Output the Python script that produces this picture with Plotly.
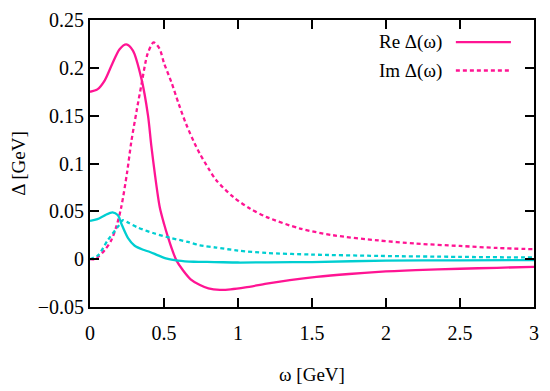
import plotly.graph_objects as go

# ---- data ----
re_pink_w = [0, 0.05, 0.1, 0.15, 0.2, 0.245, 0.29, 0.347, 0.392, 0.414, 0.44, 0.471, 0.5, 0.527,
             0.555, 0.583, 0.628, 0.68, 0.743, 0.8, 0.878, 0.95, 1.05, 1.194, 1.35, 1.53, 1.75, 1.95,
             2.2, 2.5, 2.75, 3.0]
re_pink = [0.175, 0.1775, 0.187, 0.204, 0.2195, 0.2245, 0.218, 0.189, 0.150, 0.119, 0.087, 0.0546, 0.037,
           0.023, 0.010, -0.001, -0.0116, -0.021, -0.027, -0.0305, -0.032, -0.0315, -0.0295, -0.0256,
           -0.022, -0.0186, -0.0155, -0.0133, -0.0115, -0.0100, -0.009, -0.008]

im_pink_w = [0, 0.03, 0.054, 0.1, 0.144, 0.18, 0.212, 0.25, 0.279, 0.315, 0.347, 0.39, 0.43, 0.47, 0.5,
             0.55, 0.6, 0.65, 0.707, 0.743, 0.8, 0.853, 0.968, 1.08, 1.194, 1.419, 1.644, 1.948, 2.2,
             2.5, 2.75, 3.0]
im_pink = [0, 0, 0.0023, 0.0095, 0.0198, 0.035, 0.055, 0.09, 0.1226, 0.155, 0.182, 0.215, 0.2265, 0.22,
           0.205, 0.185, 0.162, 0.141, 0.121, 0.110, 0.095, 0.0825, 0.065, 0.053, 0.044, 0.032, 0.025,
           0.0196, 0.0163, 0.0138, 0.0117, 0.0104]

re_cyan_w = [0, 0.05, 0.1, 0.152, 0.189, 0.212, 0.257, 0.302, 0.36, 0.405, 0.46, 0.52, 0.595, 0.7,
             0.84, 1.0, 1.2, 1.5, 2.0, 2.5, 3.0]
re_cyan = [0.040, 0.0418, 0.0458, 0.049, 0.046, 0.037, 0.022, 0.014, 0.0098, 0.0075, 0.004, 0.0005,
           -0.0015, -0.0027, -0.003, -0.0035, -0.0033, -0.003, -0.0015, -0.0012, -0.001]

im_cyan_w = [0, 0.054, 0.12, 0.189, 0.223, 0.26, 0.324, 0.437, 0.55, 0.662, 0.743, 0.853, 1.0, 1.19,
             1.5, 1.95, 2.5, 3.0]
im_cyan = [0, 0.004, 0.0198, 0.034, 0.0407, 0.038, 0.033, 0.0268, 0.022, 0.018, 0.0145, 0.0121, 0.009,
           0.0065, 0.0048, 0.0034, 0.0024, 0.0017]

x_ticks = [0, 0.5, 1, 1.5, 2, 2.5, 3]
x_tick_labels = ["0", "0.5", "1", "1.5", "2", "2.5", "3"]
y_ticks = [-0.05, 0, 0.05, 0.1, 0.15, 0.2, 0.25]
y_tick_labels = ["\u22120.05", "0", "0.05", "0.1", "0.15", "0.2", "0.25"]

PINK = "#ff1493"
CYAN = "#00ced1"
DOT = "4px,3px"
LW = 2.3
FONT = "Liberation Serif"

fig = go.Figure()
fig.add_trace(go.Scatter(x=re_pink_w, y=re_pink, mode="lines", name="Re \u0394(\u03c9)",
                         line=dict(color=PINK, width=LW, shape="spline", smoothing=0.8)))
fig.add_trace(go.Scatter(x=im_pink_w, y=im_pink, mode="lines", name="Im \u0394(\u03c9)",
                         line=dict(color=PINK, width=LW, dash=DOT, shape="spline", smoothing=0.8)))
fig.add_trace(go.Scatter(x=re_cyan_w, y=re_cyan, mode="lines", showlegend=False,
                         line=dict(color=CYAN, width=LW, shape="spline", smoothing=0.8)))
fig.add_trace(go.Scatter(x=im_cyan_w, y=im_cyan, mode="lines", showlegend=False,
                         line=dict(color=CYAN, width=LW, dash=DOT, shape="spline", smoothing=0.8)))

# manual legend (text left, sample line right, as in the reference)
legend_items = [("Re \u0394(\u03c9)", "solid", 0.923), ("Im \u0394(\u03c9)", DOT, 0.824)]
for label, dash, yp in legend_items:
    fig.add_annotation(x=0.798, y=yp, xref="paper", yref="paper", text=label, showarrow=False,
                       xanchor="right", yanchor="middle", font=dict(family=FONT, size=19, color="black"))
    fig.add_shape(type="line", xref="paper", yref="paper", x0=0.824, x1=0.948, y0=yp, y1=yp,
                  line=dict(color=PINK, width=LW, dash=dash))

axis_common = dict(showgrid=False, zeroline=False, showline=True, linecolor="black", linewidth=2,
                   mirror="ticks", ticks="inside", ticklen=9, tickwidth=2, tickcolor="black",
                   automargin=False,
                   tickfont=dict(family=FONT, size=20, color="black"))

fig.update_xaxes(range=[0, 3], tickvals=x_ticks, ticktext=x_tick_labels, ticklabelstandoff=7,
                 title=dict(text="\u03c9 [GeV]", font=dict(family=FONT, size=19, color="black"), standoff=25),
                 **axis_common)
fig.update_yaxes(range=[-0.05, 0.25], tickvals=y_ticks, ticktext=y_tick_labels,
                 title=dict(text="\u0394 [GeV]", font=dict(family=FONT, size=19, color="black"), standoff=12),
                 **axis_common)

# the page body adds an 8px offset; compensate so the plot lands where the reference has it
fig.update_layout(width=542, height=383, margin=dict(l=82, r=16, t=12, b=84),
                  plot_bgcolor="white", paper_bgcolor="white", showlegend=False,
                  font=dict(family=FONT, size=19, color="black"))

fig.write_html("out.html")
